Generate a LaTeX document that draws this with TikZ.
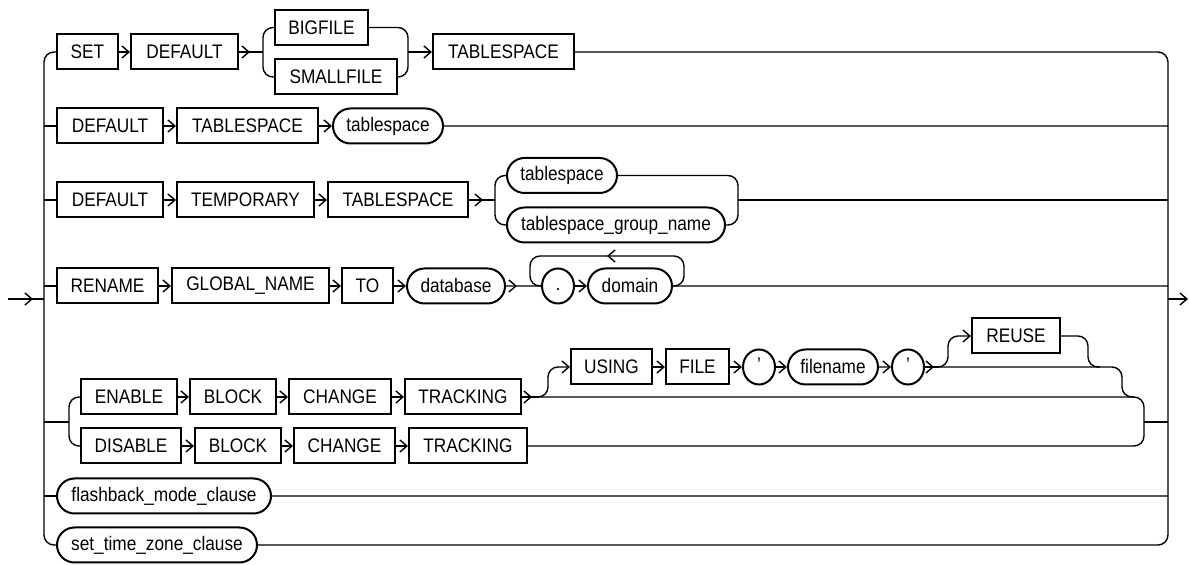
\documentclass[tikz,border=0pt]{standalone}
\usepackage{fontspec}
\setmainfont{Liberation Sans}[FakeStretch=0.88]
\usetikzlibrary{arrows.meta,shapes.misc,shapes.geometric,decorations.markings}

\begin{document}
\begin{tikzpicture}[x=0.5pt, y=-0.5pt, line width=0.7pt, >={Straight Barb[length=3.5pt,width=6pt]},
		font=\fontsize{9.8pt}{11pt}\selectfont,
		kw/.style={draw, shape=rectangle, line width=1pt, minimum width=#1*0.5pt, minimum height=17.5pt, inner sep=0pt},
		nt/.style={draw, shape=rounded rectangle, line width=1pt, minimum width=#1*0.5pt, minimum height=17.5pt, inner sep=0pt},
		pu/.style={draw, shape=ellipse, line width=1pt, minimum width=16pt, minimum height=17.5pt, inner sep=0pt, text height=6pt, text depth=1pt},
		pre/.style={postaction={decorate}, decoration={markings, mark=at position -#1*0.5pt with {\arrow{>}}}},
		mid/.style={postaction={decorate}, decoration={markings, mark=at position 0.5 with {\arrow{>}}}},
		rc/.style={rounded corners=5pt}]
			\useasboundingbox (0,0) rectangle (1189,565);
			\coordinate (In) at (8,299);
			\coordinate (L) at (44,299);
			\coordinate (R) at (1168,299);
			\coordinate (Out) at (1188,299);
			\node[kw=61](Set) at (87.5,52){SET};
			\node[kw=107](Dflt1) at (184.5,52){DEFAULT};
			\node[kw=93](Big) at (321.5,27.5){BIGFILE};
			\node[kw=122](Small) at (336,77){SMALLFILE};
			\node[kw=141](Tbs1) at (503.5,52){TABLESPACE};
			\node[kw=106](Dflt2) at (110,126){DEFAULT};
			\node[kw=141](Tbs2) at (247.5,126){TABLESPACE};
			\node[nt=110](Tsp2) at (388,126){tablespace};
			\node[kw=106](Dflt3) at (110,200){DEFAULT};
			\node[kw=137](Temp) at (245.5,200){TEMPORARY};
			\node[kw=140](Tbs3) at (398,200){TABLESPACE};
			\node[nt=110](Tsp3) at (562,175.5){tablespace};
			\node[nt=218](Tgn) at (616,225){tablespace\_group\_name};
			\node[kw=101](Ren) at (107.5,286){RENAME};
			\node[kw=157](Gname) at (250.5,286){GLOBAL\_NAME};
			\node[kw=51](To) at (367.5,286){TO};
			\node[nt=98](Db) at (456,286){database};
			\node[pu](Dot) at (558,286){.};
			\node[nt=84](Dom) at (630,286){domain};
			\node[kw=96](Ena) at (129,397){ENABLE};
			\node[kw=86](Blk1) at (233,397){BLOCK};
			\node[kw=102](Chg1) at (340,397){CHANGE};
			\node[kw=116](Trk1) at (463,397){TRACKING};
			\node[kw=100](Dis) at (131,446){DISABLE};
			\node[kw=86](Blk2) at (238,446){BLOCK};
			\node[kw=101](Chg2) at (344.5,446){CHANGE};
			\node[kw=118](Trk2) at (468,446){TRACKING};
			\node[kw=81](Using) at (611.5,367){USING};
			\node[kw=63](File) at (697.5,367){FILE};
			\node[pu](Q1) at (759,367){'};
			\node[nt=90](Fname) at (833,367){filename};
			\node[pu](Q2) at (908,367){'};
			\node[kw=88](Reuse) at (1016,336){REUSE};
			\node[nt=214](Fb) at (164,496){flashback\_mode\_clause};
			\node[nt=200](Stz) at (157,545){set\_time\_zone\_clause};
			\draw[pre=11] (In) -- (L);
			\draw[->] (R) -- (Out);
			\draw[rc] (Set.west) -| (L) |- (Stz.west);
			\draw[rc] (Tbs1.east) -| (R) |- (Stz.east);
			\coordinate (B1) at (263,52);
			\coordinate (J1) at (408,52);
			\draw[->] (Set) -- (Dflt1);
			\draw[pre=13] (Dflt1) -- (B1);
			\draw[rc] (Big.west) -| (B1) |- (Small.west);
			\draw[rc] (Big.east) -| (J1) |- (Small.east);
			\draw[->] (J1) -- (Tbs1);
			\draw (Dflt2.west -| L) -- (Dflt2);
			\draw[->] (Dflt2) -- (Tbs2);
			\draw[->] (Tbs2) -- (Tsp2);
			\draw (Tsp2) -- (Tsp2.east -| R);
			\coordinate (B3) at (495,200);
			\coordinate (J3) at (738,200);
			\draw (Dflt3.west -| L) -- (Dflt3);
			\draw[->] (Dflt3) -- (Temp);
			\draw[->] (Temp) -- (Tbs3);
			\draw[pre=12] (Tbs3) -- (B3);
			\draw[rc] (Tsp3.west) -| (B3) |- (Tgn.west);
			\draw[rc] (Tsp3.east) -| (J3) |- (Tgn.east);
			\draw (J3) -- (J3 -| R);
			\coordinate (LpR) at (684,256);
			\coordinate (LpL) at (530,286);
			\draw (Ren.west -| L) -- (Ren);
			\draw[->] (Ren) -- (Gname);
			\draw[->] (Gname) -- (To);
			\draw[->] (To) -- (Db);
			\draw[pre=24] (Db) -- (Dot);
			\draw[->] (Dot) -- (Dom);
			\draw[rc, mid] (Dom.east) -| (LpR) -| (LpL) -- (Dot.west);
			\draw (Dom) -- (Dom.east -| R);
			\coordinate (B5L) at (69,422);
			\coordinate (B5) at (538,397);
			\coordinate (J5) at (1144,422);
			\draw (B5L -| L) -- (B5L);
			\draw[rc] (Ena.west) -| (B5L) |- (Dis.west);
			\draw[->] (Ena) -- (Blk1);
			\draw[->] (Blk1) -- (Chg1);
			\draw[->] (Chg1) -- (Trk1);
			\draw[->] (Dis) -- (Blk2);
			\draw[->] (Blk2) -- (Chg2);
			\draw[->] (Chg2) -- (Trk2);
			\draw[pre=6] (Trk1) -- (B5);
			\draw[rc] (B5) -| (J5);
			\draw[rc] (Trk2.east) -| (J5);
			\draw (J5) -- (J5 -| R);
			\draw[rc, ->] (B5) -| (548,367) -- (Using.west);
			\draw[->] (Using) -- (File);
			\draw[->] (File) -- (Q1);
			\draw[->] (Q1) -- (Fname);
			\draw[->] (Fname) -- (Q2);
			\coordinate (B6) at (938,367);
			\draw[pre=4] (Q2) -- (B6);
			\draw[rc, ->] (B6) -| (948,336) -- (Reuse.west);
			\draw[rc] (Reuse.east) -| (1088,367) -- (1100,367);
			\draw[rc] (B6) -| (1122,397) -- (1134,397);
			\draw (Fb.west -| L) -- (Fb);
			\draw (Fb) -- (Fb.east -| R);
		\end{tikzpicture}
\end{document}
